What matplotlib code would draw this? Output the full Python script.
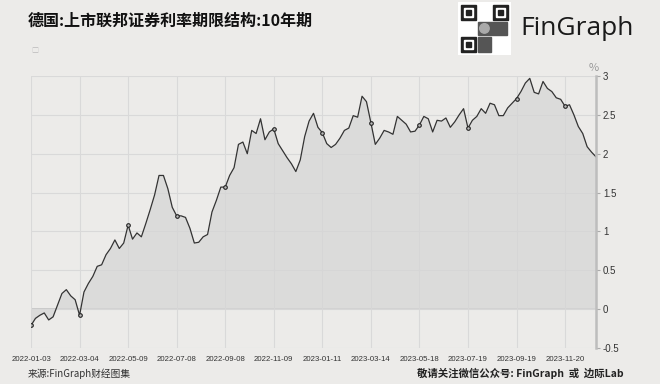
import matplotlib.pyplot as plt
import matplotlib.patches as patches
import numpy as np

plt.rcParams['font.family'] = ['Noto Sans CJK SC', 'DejaVu Sans']

# 德国10年期联邦债券收益率 (%), 约每4个交易日一个点
values = [
    -0.21, -0.12, -0.08, -0.05, -0.14, -0.10, 0.05, 0.20, 0.25, 0.17,
    0.12, -0.08, 0.22, 0.33, 0.42, 0.55, 0.57, 0.70, 0.78, 0.89,
    0.78, 0.85, 1.08, 0.90, 0.98, 0.93, 1.10, 1.28, 1.47, 1.72,
    1.72, 1.55, 1.31, 1.20, 1.20, 1.18, 1.04, 0.85, 0.86, 0.93,
    0.96, 1.25, 1.40, 1.57, 1.57, 1.72, 1.82, 2.12, 2.15, 2.00,
    2.30, 2.26, 2.45, 2.18, 2.28, 2.32, 2.13, 2.04, 1.95, 1.87,
    1.77, 1.92, 2.22, 2.42, 2.52, 2.34, 2.27, 2.13, 2.08, 2.12,
    2.20, 2.30, 2.33, 2.49, 2.47, 2.74, 2.67, 2.40, 2.12, 2.20,
    2.30, 2.28, 2.25, 2.48, 2.43, 2.38, 2.28, 2.29, 2.37, 2.48,
    2.45, 2.28, 2.43, 2.42, 2.46, 2.34, 2.41, 2.50, 2.58, 2.33,
    2.43, 2.48, 2.58, 2.52, 2.65, 2.63, 2.49, 2.49, 2.59, 2.65,
    2.71, 2.80, 2.91, 2.97, 2.79, 2.77, 2.93, 2.84, 2.80, 2.72,
    2.70, 2.61, 2.63, 2.50, 2.35, 2.26, 2.09, 2.02, 1.96,
]
tick_labels = ['2022-01-03', '2022-03-04', '2022-05-09', '2022-07-08',
               '2022-09-08', '2022-11-09', '2023-01-11', '2023-03-14',
               '2023-05-18', '2023-07-19', '2023-09-19', '2023-11-20']
tick_step = 11

bg = '#ecebe9'
x = np.arange(len(values))

fig = plt.figure(figsize=(6.6, 3.84), dpi=100, facecolor=bg)
ax = fig.add_axes([0.047, 0.094, 0.856, 0.708], facecolor=bg)

ax.fill_between(x, values, 0, color='#d6d6d6', alpha=0.75, lw=0)
ax.plot(x, values, color='#333333', lw=0.9, marker='o', markersize=2.6,
        markevery=tick_step, markerfacecolor='#bbbbbb', markeredgecolor='#222222',
        markeredgewidth=0.8)
ax.axhline(0, color='#c4c4c4', lw=1.2, zorder=0.5)

ax.set_xlim(0, len(values) - 1)
ax.set_ylim(-0.5, 3)
ax.set_xticks(np.arange(len(tick_labels)) * tick_step)
ax.set_xticklabels(tick_labels, fontsize=5.6, color='#333333', family='Liberation Sans')
ax.set_yticks([-0.5, 0, 0.5, 1, 1.5, 2, 2.5, 3])
ax.set_yticklabels(['-0.5', '0', '0.5', '1', '1.5', '2', '2.5', '3'],
                   fontsize=7, color='#333333', family='Liberation Sans')
ax.yaxis.tick_right()
ax.tick_params(axis='x', length=0, pad=6)
ax.tick_params(axis='y', length=3, width=0.8, color='#aaaaaa', pad=2)
ax.grid(True, color='#d9d9d9', lw=0.8)
ax.set_axisbelow(True)
for s in ['top', 'left', 'bottom']:
    ax.spines[s].set_visible(False)
ax.spines['right'].set_color('#bdbdbd')
ax.spines['right'].set_linewidth(1.8)

fig.text(0.9, 0.81, '%', fontsize=8, color='#999999', ha='center', va='bottom')
fig.text(0.042, 0.946, '德国:上市联邦证券利率期限结构:10年期', fontsize=11.5,
         fontweight='bold', color='#111111', va='center')
fig.text(0.048, 0.868, '□', fontsize=5, color='#bbbbbb', va='center')

# logo
qr = fig.add_axes([0.694, 0.857, 0.08, 0.138])
qr.set_xlim(0, 1)
qr.set_ylim(0, 1)
qr.axis('off')
qr.add_patch(patches.Rectangle((0, 0), 1, 1, color='white'))
for (px, py) in [(0.06, 0.66), (0.66, 0.66), (0.06, 0.06)]:
    qr.add_patch(patches.Rectangle((px, py), 0.28, 0.28, color='#222222'))
    qr.add_patch(patches.Rectangle((px + 0.05, py + 0.05), 0.18, 0.18, color='white'))
    qr.add_patch(patches.Rectangle((px + 0.09, py + 0.09), 0.10, 0.10, color='#222222'))
qr.add_patch(patches.Rectangle((0.38, 0.38), 0.55, 0.24, color='#555555'))
qr.add_patch(patches.Rectangle((0.38, 0.06), 0.24, 0.28, color='#555555'))
qr.add_patch(patches.Circle((0.5, 0.5), 0.09, color='#aaaaaa'))
fig.text(0.788, 0.925, 'FinGraph', fontsize=19, color='#1a1a1a', family='Open Sans',
         va='center')

fig.text(0.042, 0.027, '来源:FinGraph财经图集', fontsize=7, color='#333333', va='center')
fig.text(0.945, 0.027, '敬请关注微信公众号: FinGraph  或  边际Lab', fontsize=7.5,
         fontweight='bold', color='#222222', va='center', ha='right')

fig.savefig('out.png', dpi=100, facecolor=bg)
